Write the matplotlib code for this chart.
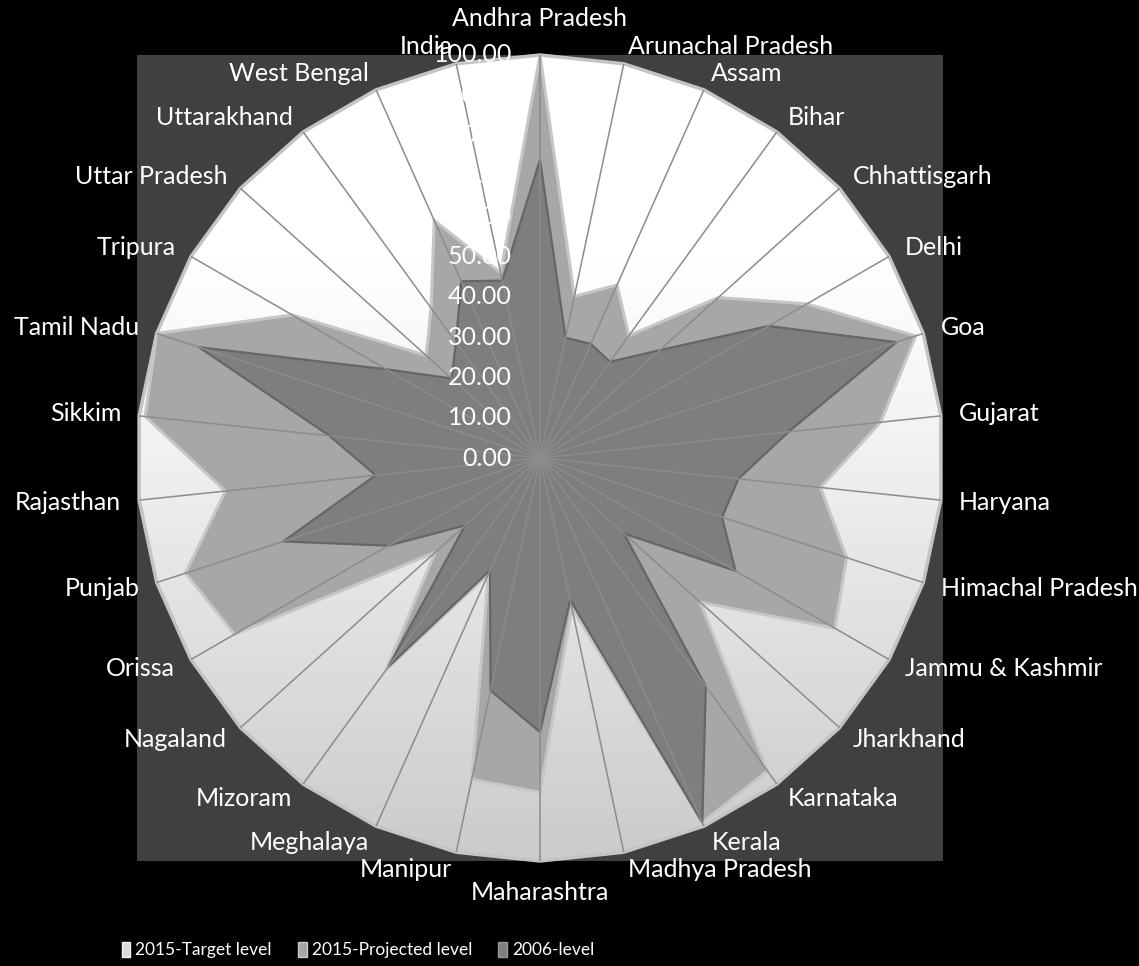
import matplotlib.pyplot as plt
from matplotlib.patches import Polygon, Rectangle, Patch
from matplotlib.colors import LinearSegmentedColormap
import numpy as np

states = [
    "Andhra Pradesh", "Arunachal Pradesh", "Assam", "Bihar", "Chhattisgarh",
    "Delhi", "Goa", "Gujarat", "Haryana", "Himachal Pradesh",
    "Jammu & Kashmir", "Jharkhand", "Karnataka", "Kerala", "Madhya Pradesh",
    "Maharashtra", "Manipur", "Meghalaya", "Mizoram", "Nagaland",
    "Orissa", "Punjab", "Rajasthan", "Sikkim", "Tamil Nadu",
    "Tripura", "Uttar Pradesh", "Uttarakhand", "West Bengal", "India",
]
target_2015 = [100.0] * len(states)
projected_2015 = [
    100.0, 41.0, 47.0, 37.5, 59.5,
    76.5, 98.0, 85.0, 70.0, 80.0,
    84.5, 53.5, 96.0, 99.0, 38.0,
    83.0, 81.5, 31.5, 65.0, 35.0,
    87.5, 92.5, 78.5, 98.5, 100.0,
    71.0, 38.0, 46.0, 64.5, 47.0,
]
level_2006 = [
    74.0, 30.5, 31.0, 29.5, 40.0,
    65.5, 93.0, 62.0, 49.5, 47.5,
    56.0, 28.0, 70.0, 99.0, 36.0,
    68.0, 59.0, 30.5, 64.0, 25.0,
    43.5, 67.0, 41.0, 52.5, 89.0,
    44.0, 29.5, 35.5, 48.0, 45.0,
]
series_names = ["2015-Target level", "2015-Projected level", "2006-level"]
r_ticks = np.arange(0, 101, 10)

W, H = 1139, 966
CX, CY = 540, 458      # pixel position of the chart centre
PX = 4.03              # pixels per unit of radius

LABEL_FONT = ["Lato", "DejaVu Sans"]

n = len(states)
theta = np.arange(n) * 2 * np.pi / n


def to_xy(values):
    v = np.asarray(values, dtype=float)
    return np.column_stack([v * np.sin(theta), v * np.cos(theta)])


fig = plt.figure(figsize=(W / 100, H / 100), dpi=100, facecolor="black")
ax = fig.add_axes([0, 0, 1, 1])
ax.set_xlim(-CX / PX, (W - CX) / PX)
ax.set_ylim(-(H - CY) / PX, CY / PX)
ax.axis("off")

# plot area
ax.add_patch(Rectangle((-100, -100), 200, 200, fc="#404040", ec="none", zorder=0))

# target level: polygon with a vertical white-to-grey gradient
target_poly = Polygon(to_xy(target_2015), closed=True, fc="none",
                      ec="#c4c4c4", lw=2.5, zorder=2)
ax.add_patch(target_poly)
grad = np.linspace(1.0, 0.0, 256).reshape(-1, 1)
grad_cmap = LinearSegmentedColormap.from_list(
    "tgt", [(0.0, "#cbcbcb"), (0.55, "#f4f4f4"), (0.75, "#ffffff"), (1.0, "#ffffff")])
img = ax.imshow(grad, cmap=grad_cmap, extent=(-100, 100, -100, 100),
                aspect="auto", zorder=1, vmin=0, vmax=1)
img.set_clip_path(target_poly)

# projected and 2006 levels
ax.add_patch(Polygon(to_xy(projected_2015), closed=True, fc="#a7a7a7",
                     ec="#c6c6c6", lw=2.2, joinstyle="miter", zorder=3))
ax.add_patch(Polygon(to_xy(level_2006), closed=True, fc="#7e7e7e",
                     ec="#666666", lw=1.6, joinstyle="miter", zorder=4))

# spokes
for t in theta:
    ax.plot([0, 100 * np.sin(t)], [0, 100 * np.cos(t)],
            color="#8c8c8c", lw=1.1, zorder=5, solid_capstyle="butt")

# radial value labels
for r in r_ticks:
    ax.text(-28 / PX, r, f"{r:.2f}", color="white", ha="right", va="center",
            fontsize=18, family=LABEL_FONT, zorder=6)

# category labels
for t, name in zip(theta, states):
    s, c = np.sin(t), np.cos(t)
    if abs(s) < 0.01:
        rad = 109.0 if c > 0 else 107.7
        ha = "center"
    else:
        rad = 104.5
        ha = "left" if s > 0 else "right"
    ax.text(rad * s, rad * c, name, color="white", ha=ha, va="center",
            fontsize=18, family=LABEL_FONT, zorder=6)

handles = [
    Patch(fc="#d9d9d9", ec="#f2f2f2"),
    Patch(fc="#a6a6a6", ec="#cccccc"),
    Patch(fc="#7f7f7f", ec="#999999"),
]
fig.legend(handles, series_names, loc="center", ncol=3,
           bbox_to_anchor=(358 / W, 1 - 950 / H), frameon=False,
           labelcolor="white", prop={"family": LABEL_FONT, "size": 12.5},
           handlelength=0.5, handleheight=0.95, handletextpad=0.3,
           columnspacing=1.5, borderpad=0)

fig.savefig("out.png", dpi=100, facecolor="black")
